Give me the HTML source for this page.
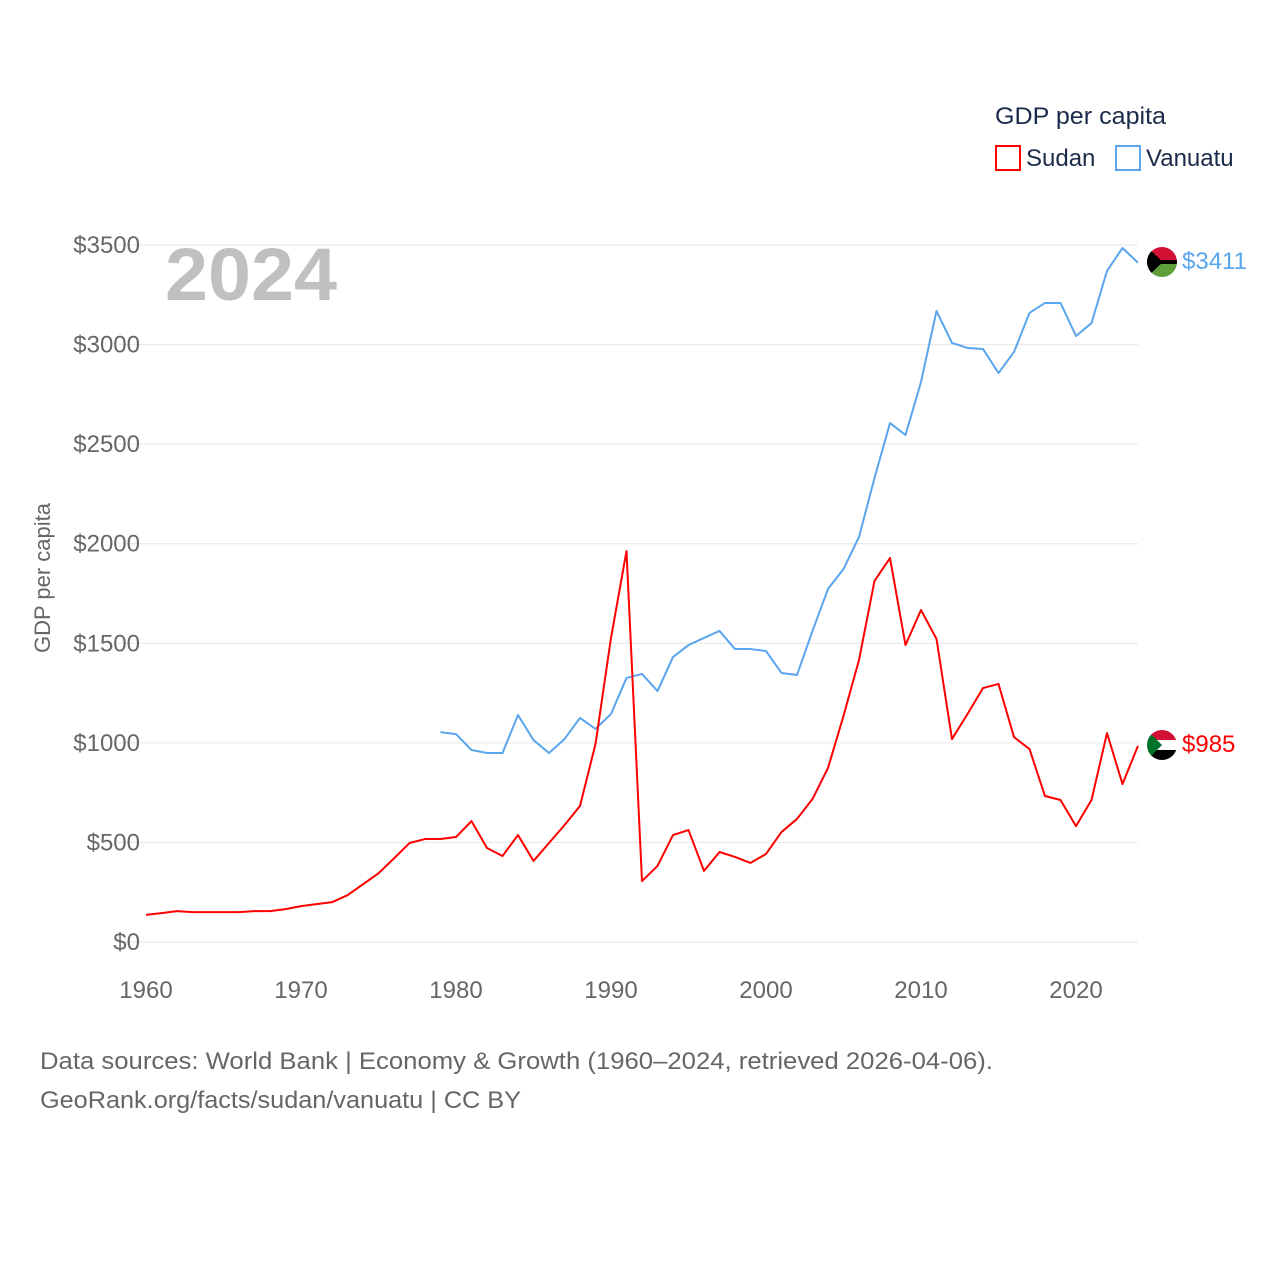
<!DOCTYPE html>
<html><head><meta charset="utf-8"><style>
body{margin:0;background:#fff;font-family:"Liberation Sans",sans-serif;}
svg text{font-family:"Liberation Sans",sans-serif;}
</style></head><body>
<svg id="chart" width="1280" height="1280" xmlns="http://www.w3.org/2000/svg">
<rect width="1280" height="1280" fill="#fff"/>
<g id="grid"></g>
<text x="165" y="300" font-size="74" font-weight="bold" fill="#c0c0c0" textLength="172" lengthAdjust="spacingAndGlyphs">2024</text>
<text transform="translate(50,578) rotate(-90)" text-anchor="middle" font-size="22" fill="#666">GDP per capita</text>
<g>
<text x="995" y="124" font-size="24" fill="#1a2b4a" textLength="171" lengthAdjust="spacingAndGlyphs">GDP per capita</text>
<rect x="996" y="146" width="24" height="24" fill="none" stroke="#ff0000" stroke-width="2"/>
<text x="1026" y="166" font-size="24" fill="#1a2b4a">Sudan</text>
<rect x="1116" y="146" width="24" height="24" fill="none" stroke="#5aa5ee" stroke-width="2"/>
<text x="1146" y="166" font-size="24" fill="#1a2b4a">Vanuatu</text>
</g>
<g id="series"></g>
<g>
<clipPath id="cv"><circle cx="1162" cy="262" r="15"/></clipPath>
<g clip-path="url(#cv)"><rect x="1147" y="247" width="30" height="15" fill="#d21034"/><rect x="1147" y="262" width="30" height="15" fill="#5f9e3b"/><rect x="1147" y="260" width="30" height="4" fill="#000"/><polygon points="1147,247 1163,262 1147,277" fill="#000"/></g>
</g>
<g>
<clipPath id="cs"><circle cx="1162" cy="745" r="15"/></clipPath>
<g clip-path="url(#cs)"><rect x="1147" y="730" width="30" height="10" fill="#d21034"/><rect x="1147" y="740" width="30" height="10" fill="#fff"/><rect x="1147" y="750" width="30" height="10" fill="#000"/><polygon points="1147,730 1162,745 1147,760" fill="#007229"/></g>
</g>
<text x="1182" y="269" font-size="24" fill="#5aa5ee">$3411</text>
<text x="1182" y="752" font-size="24" fill="#ff0000">$985</text>
<text x="40" y="1069" font-size="24" fill="#666" textLength="953" lengthAdjust="spacingAndGlyphs">Data sources: World Bank | Economy &amp; Growth (1960–2024, retrieved 2026-04-06).</text>
<text x="40" y="1108" font-size="24" fill="#666" textLength="481" lengthAdjust="spacingAndGlyphs">GeoRank.org/facts/sudan/vanuatu | CC BY</text>
</svg>
<script>
const yTicks=[0,500,1000,1500,2000,2500,3000,3500];
const xTicks=[1960,1970,1980,1990,2000,2010,2020];
const sudanStart=1960;
const sudan=[136,145,155,150,150,150,150,155,155,165,180,190,200,235,290,345,420,497,517,517,527,607,472,432,537,407,497,587,683,994,1527,1963,306,382,537,562,357,452,427,397,442,552,618,718,874,1135,1416,1813,1928,1491,1667,1522,1019,1145,1275,1296,1029,969,733,713,582,713,1049,793,985];
const vanuatuStart=1979;
const vanuatu=[1054,1044,964,949,949,1140,1014,949,1019,1125,1070,1145,1326,1346,1260,1431,1491,1527,1562,1471,1471,1461,1351,1341,1562,1773,1873,2034,2330,2606,2546,2812,3169,3008,2983,2978,2857,2963,3159,3209,3209,3043,3108,3370,3485,3411];
const xS=yr=>146+(yr-1960)*15.5;
const yS=v=>942-v*(697/3500);
const NS="http://www.w3.org/2000/svg";
const grid=document.getElementById('grid');
yTicks.forEach(t=>{
 const l=document.createElementNS(NS,'line');
 l.setAttribute('x1',118);l.setAttribute('x2',1138);l.setAttribute('y1',yS(t));l.setAttribute('y2',yS(t));
 l.setAttribute('stroke','#e6e6e6');l.setAttribute('stroke-width',1);
 
 
 grid.appendChild(l);
 const tx=document.createElementNS(NS,'text');
 tx.setAttribute('x',140);tx.setAttribute('y',yS(t)+8);tx.setAttribute('text-anchor','end');
 tx.setAttribute('font-size',24);tx.setAttribute('fill','#666');tx.textContent='$'+t;
 
 
 grid.appendChild(tx);
});
xTicks.forEach(t=>{
 const tx=document.createElementNS(NS,'text');
 tx.setAttribute('x',xS(t));tx.setAttribute('y',998);tx.setAttribute('text-anchor','middle');
 tx.setAttribute('font-size',24);tx.setAttribute('fill','#666');tx.textContent=t;
 
 
 grid.appendChild(tx);
});
const series=document.getElementById('series');
function draw(arr,start,color,name){
 const p=document.createElementNS(NS,'polyline');
 p.setAttribute('points',arr.map((v,i)=>xS(start+i)+','+yS(v)).join(' '));
 p.setAttribute('fill','none');p.setAttribute('stroke',color);p.setAttribute('stroke-width',2);
 p.setAttribute('stroke-linejoin','round');
 
 
 series.appendChild(p);
}
draw(vanuatu,vanuatuStart,'#5aa5ee','line-vanuatu');
draw(sudan,sudanStart,'#ff0000','line-sudan');
</script>
</body></html>
